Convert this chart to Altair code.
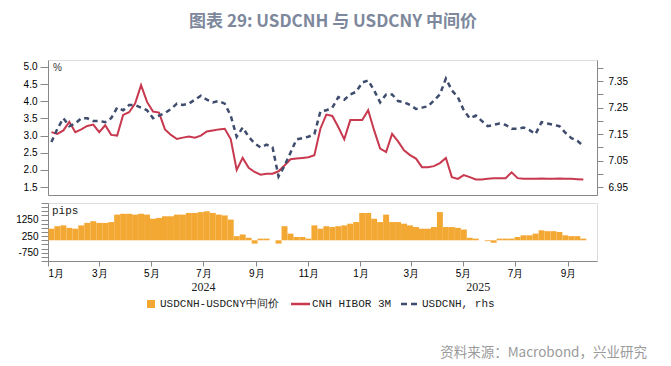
import altair as alt
import pandas as pd

# weekly observations (Fridays) starting 2024-01-05
dates = pd.date_range("2024-01-05", periods=90, freq="7D")

hibor = [3.10, 3.05, 3.15, 3.40, 3.10, 3.18, 3.28, 3.32, 3.10, 3.30,
         3.02, 3.00, 3.60, 3.68, 3.93, 4.47, 3.98, 3.70, 3.67, 3.18,
         3.02, 2.90, 2.94, 2.97, 2.94, 3.00, 3.12, 3.15, 3.18, 3.20,
         2.90, 2.00, 2.35, 2.06, 1.94, 1.86, 1.89, 1.89, 1.96, 2.13,
         2.31, 2.33, 2.35, 2.37, 2.43, 3.20, 3.61, 3.57, 3.25, 2.89,
         3.45, 3.45, 3.45, 3.74, 3.15, 2.62, 2.52, 3.05, 2.83, 2.57,
         2.43, 2.33, 2.08, 2.08, 2.11, 2.20, 2.35, 1.79, 1.74, 1.85,
         1.79, 1.72, 1.72, 1.74, 1.76, 1.76, 1.76, 1.93, 1.76, 1.74,
         1.74, 1.74, 1.75, 1.74, 1.74, 1.75, 1.74, 1.74, 1.73, 1.72]

usdcnh = [7.12, 7.17, 7.21, 7.18, 7.19, 7.21, 7.21, 7.20, 7.20, 7.195,
          7.21, 7.25, 7.24, 7.26, 7.26, 7.25, 7.24, 7.21, 7.22, 7.23,
          7.245, 7.265, 7.26, 7.265, 7.28, 7.295, 7.28, 7.27, 7.275, 7.265,
          7.22, 7.14, 7.175, 7.14, 7.115, 7.10, 7.11, 7.10, 6.99, 7.03,
          7.08, 7.13, 7.135, 7.14, 7.15, 7.235, 7.24, 7.25, 7.29, 7.28,
          7.30, 7.31, 7.345, 7.353, 7.315, 7.27, 7.30, 7.30, 7.275, 7.27,
          7.26, 7.245, 7.25, 7.255, 7.277, 7.30, 7.36, 7.315, 7.29, 7.24,
          7.21, 7.22, 7.20, 7.18, 7.185, 7.19, 7.185, 7.17, 7.17, 7.175,
          7.165, 7.15, 7.195, 7.19, 7.185, 7.18, 7.155, 7.135, 7.125, 7.105]

spread = [700, 850, 900, 750, 700, 900, 1050, 1150, 1050, 1050,
          1100, 1550, 1600, 1600, 1550, 1600, 1550, 1300, 1350, 1450,
          1450, 1550, 1550, 1650, 1650, 1700, 1750, 1650, 1550, 1500,
          1250, 250, 350, 150, -200, 100, 100, 0, -200, 850,
          400, 200, 200, 100, 900, 700, 850, 800, 850, 900,
          1000, 1100, 1650, 1650, 1300, 1100, 1550, 1100, 1100, 1000,
          900, 800, 700, 700, 800, 1700, 800, 800, 750, 650,
          150, 100, 0, -50, -150, 100, 100, 100, 200, 300,
          300, 400, 600, 550, 550, 500, 300, 250, 250, 100]

years = ["2024", "2025"]
year_centers = ["2024-07-01", "2025-05-19"]

legend_labels = ["USDCNH-USDCNY中间价", "CNH HIBOR 3M", "USDCNH, rhs"]
title_text = "图表 29: USDCNH 与 USDCNY 中间价"
source_text = "资料来源：Macrobond，兴业研究"

RED = "#C8384E"
NAVY = "#3E4C6D"
ORANGE = "#F4A834"
W = 549

df = pd.DataFrame({"date": dates, "hibor": hibor, "usdcnh": usdcnh, "spread": spread})
df["start"] = df["date"] - pd.Timedelta(hours=84)
df["end"] = df["date"] + pd.Timedelta(hours=84)

xscale = alt.Scale(domain=[alt.DateTime(year=2024, month=1, date=1),
                           alt.DateTime(year=2025, month=10, date=5)])

month_ticks = [alt.DateTime(year=y, month=m, date=1)
               for y, ms in [(2024, [1, 3, 5, 7, 9, 11]), (2025, [1, 3, 5, 7, 9])]
               for m in ms]

x_top = alt.X("date:T", scale=xscale,
              axis=alt.Axis(labels=False, ticks=False, title=None, grid=False))

left_vals = [1.5, 2.0, 2.5, 3.0, 3.5, 4.0, 4.5, 5.0]
right_vals = [round(6.95 + 0.05 * i, 2) for i in range(10)]

red = alt.Chart(df).mark_line(color=RED, strokeWidth=2).encode(
    x=x_top,
    y=alt.Y("hibor:Q", scale=alt.Scale(domain=[1.27, 5.2], nice=False, zero=False),
            axis=alt.Axis(orient="left", values=left_vals, format=".1f", title=None,
                          grid=False, tickSize=8, labelPadding=3)))

blue = alt.Chart(df).mark_line(color=NAVY, strokeWidth=2.5, strokeDash=[5, 4]).encode(
    x=x_top,
    y=alt.Y("usdcnh:Q", scale=alt.Scale(domain=[6.92, 7.43], nice=False, zero=False),
            axis=alt.Axis(orient="right", values=right_vals, title=None, grid=False,
                          tickSize=6, labelPadding=5,
                          labelExpr="abs(round(datum.value*100) % 10) == 5 ? format(datum.value, '.2f') : ''")))

pct = alt.Chart(pd.DataFrame({"t": ["%"]})).mark_text(
    align="left", baseline="top", font="Liberation Sans", fontSize=10, color="#333").encode(
    text="t:N", x=alt.value(5), y=alt.value(3))

title = alt.Chart(pd.DataFrame({"t": [title_text]})).mark_text(
    align="center", baseline="middle", font="Noto Sans CJK SC", fontSize=17,
    fontWeight="bold", color="#7D889C").encode(
    text="t:N", x=alt.value(285), y=alt.value(-38))

top = alt.layer(red, blue, pct, title).resolve_scale(y="independent").properties(
    width=W, height=135)

bars = alt.Chart(df).mark_bar(color=ORANGE).encode(
    x=alt.X("start:T", scale=xscale,
            axis=alt.Axis(values=month_ticks, title=None, grid=False, tickSize=5,
                          labelExpr="(month(datum.value)+1) + '月'", labelPadding=2)),
    x2="end:T",
    y=alt.Y("spread:Q", scale=alt.Scale(domain=[-1250, 2250], nice=False),
            axis=alt.Axis(values=list(range(-1250, 2251, 250)), title=None, grid=False,
                          tickSize=7, labelPadding=3,
                          labelExpr="(datum.value == -750 || datum.value == 250 || datum.value == 1250) ? datum.value + '' : ''")),
    y2=alt.datum(0))

pips = alt.Chart(pd.DataFrame({"t": ["pips"]})).mark_text(
    align="left", baseline="top", font="Liberation Mono", fontSize=11, color="#222").encode(
    text="t:N", x=alt.value(4), y=alt.value(2))

year_df = pd.DataFrame({"year": years, "center": pd.to_datetime(year_centers)})
year_text = alt.Chart(year_df).mark_text(
    baseline="middle", font="Liberation Serif", fontSize=12, color="#222").encode(
    x=alt.X("center:T", scale=xscale), text="year:N", y=alt.value(84))

lab_df = pd.DataFrame({"t": legend_labels, "px": [112, 264, 374]})
legend_text = alt.Chart(lab_df).mark_text(
    align="left", baseline="middle", font="Liberation Mono", fontSize=11, color="#222").encode(
    text="t:N", x=alt.X("px:Q", scale=None), y=alt.value(101))

one = pd.DataFrame({"a": [0]})
leg_sq = alt.Chart(one).mark_square(color=ORANGE, size=64, opacity=1).encode(
    x=alt.value(103), y=alt.value(101))
leg_red = alt.Chart(one).mark_rule(color=RED, strokeWidth=2.5).encode(
    x=alt.value(243), x2=alt.value(262), y=alt.value(101))
leg_blue = alt.Chart(one).mark_rule(color=NAVY, strokeWidth=2.5, strokeDash=[6, 4]).encode(
    x=alt.value(353), x2=alt.value(372), y=alt.value(101))

source = alt.Chart(pd.DataFrame({"t": [source_text]})).mark_text(
    align="right", baseline="middle", font="Noto Sans CJK SC", fontSize=13.5,
    color="#9A9A9A").encode(text="t:N", x=alt.value(599), y=alt.value(150))

bottom = alt.layer(bars, pips, year_text, legend_text, leg_sq, leg_red, leg_blue,
                   source).properties(width=W, height=58)

chart = alt.vconcat(top, bottom, spacing=6).properties(
    padding={"left": 7, "top": 4, "right": 0, "bottom": 0}
).configure_view(stroke=None).configure_axis(
    domainColor="#555", domainWidth=1.5, tickColor="#555", tickWidth=1.2,
    labelFont="Liberation Serif", labelFontSize=12, labelColor="#222"
).configure(background="white")

chart.save("out.html", embed_options={"renderer": "svg", "actions": False})
